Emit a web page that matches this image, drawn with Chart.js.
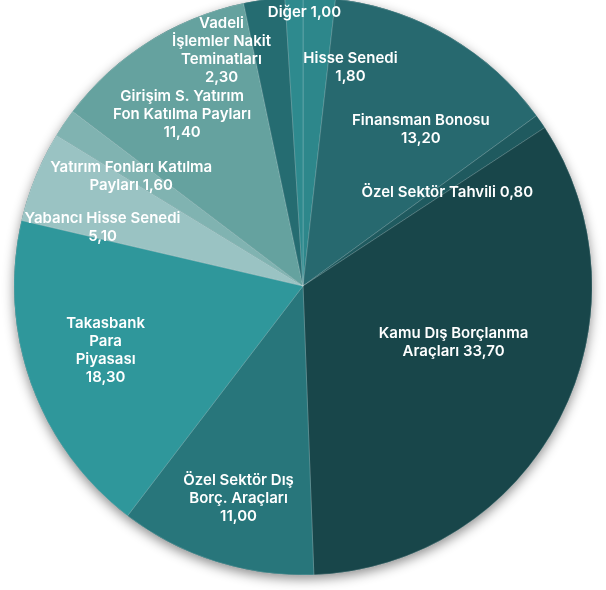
<!DOCTYPE html>
<html>
<head>
<meta charset="utf-8">
<script src="https://cdn.jsdelivr.net/npm/chart.js@4"></script>
<style>
    html, body { margin: 0; padding: 0; background: #FFFFFF; }
    #caja { position: relative; width: 606px; height: 590px; }
</style>
</head>
<body>
<div id="caja"><canvas id="graficaDagilim"></canvas></div>

<script>
/* =========================================================
    DATOS
========================================================= */

const categorias = [
    "Hisse Senedi",
    "Finansman Bonosu",
    "Özel Sektör Tahvili",
    "Kamu Dış Borçlanma Araçları",
    "Özel Sektör Dış Borç. Araçları",
    "Takasbank Para Piyasası",
    "Yabancı Hisse Senedi",
    "Yatırım Fonları Katılma Payları",
    "Girişim S. Yatırım Fon Katılma Payları",
    "Vadeli İşlemler Nakit Teminatları",
    "Diğer"
];

const valores = [1.80, 13.20, 0.80, 33.70, 11.00, 18.30, 5.10, 1.60, 11.40, 2.30, 1.00];

// lineas de cada etiqueta, {v} = valor
const etiquetas = [
    ["Hisse Senedi", "{v}"],
    ["Finansman Bonosu", "{v}"],
    ["Özel Sektör Tahvili {v}"],
    ["Kamu Dış Borçlanma", "Araçları {v}"],
    ["Özel Sektör Dış", "Borç. Araçları", "{v}"],
    ["Takasbank", "Para", "Piyasası", "{v}"],
    ["Yabancı Hisse Senedi", "{v}"],
    ["Yatırım Fonları Katılma", "Payları {v}"],
    ["Girişim S. Yatırım", "Fon Katılma Payları", "{v}"],
    ["Vadeli", "İşlemler Nakit", "Teminatları", "{v}"],
    ["Diğer {v}"]
];

const colores = [
    "#2D878B", "#27696F", "#1F5A5F", "#18464A", "#28767B", "#2F979B",
    "#9AC3C3", "#80B3B1", "#65A29F", "#256C71", "#2E8A8E"
];

/* =========================================================
    UBICACION DE ETIQUETAS (giro en grados, fraccion del radio)
========================================================= */
const ajusteEtiqueta = [
    [9, 0.775], [6.8, 0.678], [1.7, 0.595], [-6.9, 0.556], [-0.7, 0.767], [1.8, 0.718],
    [-5.9, 0.723], [-1.9, 0.704], [-2.8, 0.727], [-11.4, 0.861], [2.1, 0.948]
];

const formato = v => v.toFixed(2).replace(".", ",");

/* =========================
    SOMBRA DEL CIRCULO
========================= */
const sombra = {
    id: "sombra",
    beforeDatasetsDraw(chart) {
        const arc = chart.getDatasetMeta(0).data[0];
        if (!arc) return;
        const ctx = chart.ctx;
        ctx.save();
        ctx.shadowColor = "rgba(0,0,0,0.45)";
        ctx.shadowBlur = 12;
        ctx.shadowOffsetY = 4;
        ctx.fillStyle = "#1F5A5F";
        ctx.beginPath();
        ctx.arc(arc.x, arc.y, arc.outerRadius, 0, Math.PI * 2);
        ctx.fill();
        ctx.restore();
    }
};

/* =========================
    ETIQUETAS
========================= */
const textos = {
    id: "textos",
    afterDatasetsDraw(chart) {
        const ctx = chart.ctx;
        const meta = chart.getDatasetMeta(0);
        ctx.save();
        ctx.font = "600 15px Inter";
        ctx.fillStyle = "#FFFFFF";
        ctx.textAlign = "center";
        ctx.textBaseline = "middle";

        meta.data.forEach((arc, i) => {
            const [giro, frac] = ajusteEtiqueta[i];
            const medio = (arc.startAngle + arc.endAngle) / 2 + giro * Math.PI / 180;
            const r = arc.outerRadius * frac;
            const cx = arc.x + Math.cos(medio) * r;
            const cy = arc.y + Math.sin(medio) * r;

            const lineas = etiquetas[i].map(l => l.replace("{v}", formato(valores[i])));
            const alto = 18;
            const y0 = cy - (lineas.length - 1) * alto / 2;
            lineas.forEach((l, k) => ctx.fillText(l, cx, y0 + k * alto));
        });
        ctx.restore();
    }
};

/* =====================================================
    GRAFICA
===================================================== */
document.addEventListener("DOMContentLoaded", () => {

    new Chart(document.getElementById("graficaDagilim"), {
        type: "pie",
        data: {
            labels: categorias,
            datasets: [{
                data: valores,
                backgroundColor: colores,
                borderColor: "rgba(255,255,255,0.3)",
                borderWidth: 0.6,
                clip: false
            }]
        },
        options: {
            responsive: true,
            maintainAspectRatio: false,
            animation: false,
            radius: 289,
            layout: { padding: { top: 0, bottom: 18 } },
            plugins: {
                legend: { display: false },
                tooltip: { enabled: false }
            }
        },
        plugins: [sombra, textos]
    });

});
</script>
</body>
</html>
